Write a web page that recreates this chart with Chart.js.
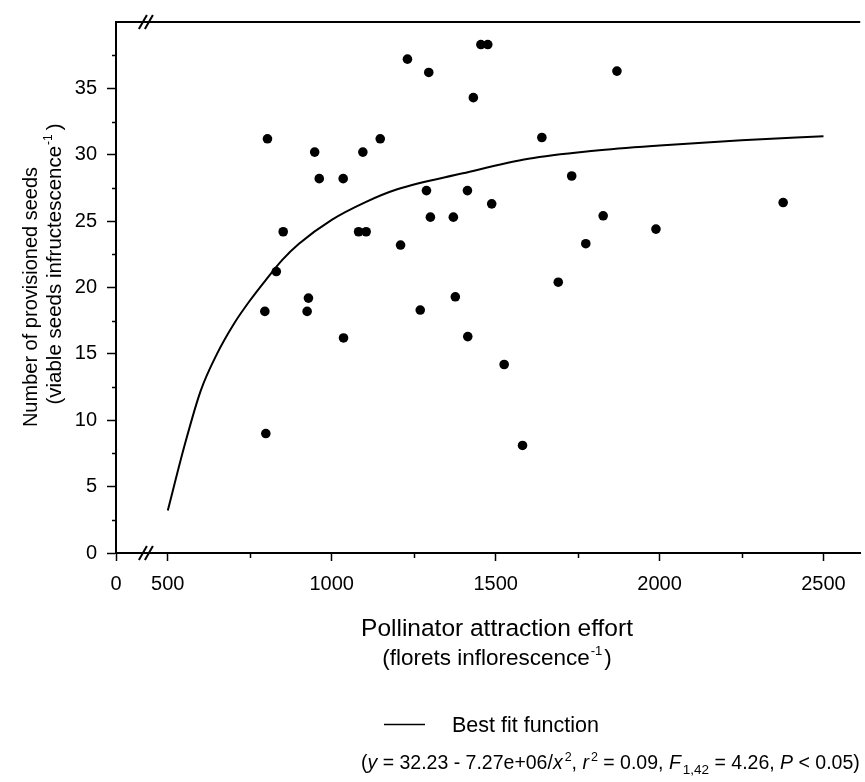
<!DOCTYPE html>
<html>
<head>
<meta charset="utf-8">
<script src="https://cdn.jsdelivr.net/npm/chart.js@4.4.1/dist/chart.umd.min.js"></script>
<style>
  html, body { margin: 0; padding: 0; background: #fff; overflow: hidden; }
  #wrap { position: relative; width: 865px; height: 782px; }
</style>
</head>
<body>
<div id="wrap"><canvas id="chart" width="865" height="782"></canvas></div>
<script>
// ===== DATA =====
const effort = [804, 796, 799, 831, 852, 929, 925, 948, 962, 1035, 1036, 1082, 1105, 1095,
  1148, 1210, 1231, 1270, 1289, 1296, 1301, 1371, 1377, 1414, 1415, 1432, 1455, 1476,
  1488, 1526, 1582, 1641, 1691, 1732, 1775, 1828, 1870, 1989, 2377];
const seeds = [31.2, 18.2, 9.0, 21.2, 24.2, 19.2, 18.2, 30.2, 28.2, 28.2, 16.2, 24.2, 24.2, 30.2,
  31.2, 23.2, 37.2, 18.3, 27.3, 36.2, 25.3, 25.3, 19.3, 27.3, 16.3, 34.3, 38.3, 38.3,
  26.3, 14.2, 8.1, 31.3, 20.4, 28.4, 23.3, 25.4, 36.3, 24.4, 26.4];

// best fit curve
const fitEffort = [500, 550, 600, 650, 700, 750, 800, 850, 900, 1000, 1100, 1200, 1400, 1600, 1800, 2000, 2250, 2500];
const fitSeeds = [3.2, 8.0, 12.2, 15.0, 17.2, 19.0, 20.6, 22.1, 23.3, 25.1, 26.4, 27.4, 28.6, 29.7, 30.3, 30.7, 31.1, 31.4];

const xTickValues = [0, 500, 1000, 1500, 2000, 2500];
const xTickLabels = ['0', '500', '1000', '1500', '2000', '2500'];
const xMinorTicks = [750, 1250, 1750, 2250];
const yTickValues = [0, 5, 10, 15, 20, 25, 30, 35];
const yTickLabels = ['0', '5', '10', '15', '20', '25', '30', '35'];
const yMinorTicks = [2.5, 7.5, 12.5, 17.5, 22.5, 27.5, 32.5, 37.5];

// broken x axis: "0" sits at the left edge, the scale really starts here
const X_LEFT = 342;
const X_RIGHT = 2612;

const FONT = '"Liberation Sans", Arial, sans-serif';
const f = (size, style) => (style ? style + ' ' : '') + size + 'px ' + FONT;

// ===== HELPERS =====
function richWidth(ctx, parts) {
  let w = 0;
  parts.forEach(p => { ctx.font = p.font; w += ctx.measureText(p.t).width + (p.gap || 0); });
  return w;
}
function drawRich(ctx, parts, x, y) {
  let cx = x;
  parts.forEach(p => {
    ctx.font = p.font;
    ctx.fillText(p.t, cx, y + (p.dy || 0));
    cx += ctx.measureText(p.t).width + (p.gap || 0);
  });
}

// ===== FRAME, MINOR TICKS, BREAKS AND TEXTS =====
const framePlugin = {
  id: 'frame',
  afterDraw(chart) {
    const ctx = chart.ctx;
    const area = chart.chartArea;
    const xs = chart.scales.x;
    const ys = chart.scales.y;
    ctx.save();
    ctx.strokeStyle = '#000';
    ctx.fillStyle = '#000';

    // top frame line
    ctx.lineWidth = 2;
    ctx.beginPath();
    ctx.moveTo(area.left, area.top);
    ctx.lineTo(area.right, area.top);
    ctx.stroke();

    // minor ticks
    ctx.lineWidth = 1.5;
    yMinorTicks.forEach(v => {
      const py = Math.round(ys.getPixelForValue(v)) + 0.5;
      ctx.beginPath();
      ctx.moveTo(area.left - 4, py);
      ctx.lineTo(area.left, py);
      ctx.stroke();
    });
    xMinorTicks.forEach(v => {
      const px = Math.round(xs.getPixelForValue(v)) + 0.5;
      ctx.beginPath();
      ctx.moveTo(px, area.bottom);
      ctx.lineTo(px, area.bottom + 5);
      ctx.stroke();
    });

    // axis break marks, between "0" and "500"
    const bx = (area.left + xs.getPixelForValue(500)) / 2 + 4;
    [area.top, area.bottom].forEach(by => {
      ctx.lineWidth = 2;
      [-3, 3].forEach(off => {
        ctx.beginPath();
        ctx.moveTo(bx + off - 4, by + 7);
        ctx.lineTo(bx + off + 4, by - 7);
        ctx.stroke();
      });
    });

    ctx.textBaseline = 'alphabetic';

    // y axis title, two lines, rotated
    ctx.save();
    ctx.translate(37, 297);
    ctx.rotate(-Math.PI / 2);
    ctx.font = f(20);
    ctx.textAlign = 'center';
    ctx.fillText('Number of provisioned seeds', 0, 0);
    ctx.restore();

    const yLine2 = [
      { t: '(viable seeds infructescence', font: f(20.5), gap: 1 },
      { t: '-1', font: f(12), dy: -9, gap: 4 },
      { t: ')', font: f(20.5) }
    ];
    ctx.save();
    ctx.translate(61, 264);
    ctx.rotate(-Math.PI / 2);
    ctx.textAlign = 'left';
    drawRich(ctx, yLine2, -richWidth(ctx, yLine2) / 2, 0);
    ctx.restore();

    // x axis title
    ctx.textAlign = 'center';
    ctx.font = f(24.5);
    ctx.fillText('Pollinator attraction effort', 497, 636);
    const xLine2 = [
      { t: '(florets inflorescence', font: f(22.5), gap: 1 },
      { t: '-1', font: f(13), dy: -10, gap: 2 },
      { t: ')', font: f(22.5) }
    ];
    ctx.textAlign = 'left';
    drawRich(ctx, xLine2, 497 - richWidth(ctx, xLine2) / 2, 665);

    // legend
    ctx.lineWidth = 1.5;
    ctx.beginPath();
    ctx.moveTo(384, 724.5);
    ctx.lineTo(425, 724.5);
    ctx.stroke();
    ctx.font = f(21.5);
    ctx.fillText('Best fit function', 452, 732);

    // fit statistics
    const eq = [
      { t: '(', font: f(19.5) },
      { t: 'y', font: f(19.5, 'italic') },
      { t: ' = 32.23 - 7.27e+06/', font: f(19.5) },
      { t: 'x', font: f(19.5, 'italic'), gap: 2 },
      { t: '2', font: f(12.5), dy: -8 },
      { t: ', ', font: f(19.5) },
      { t: 'r', font: f(19.5, 'italic'), gap: 2 },
      { t: '2', font: f(12.5), dy: -8 },
      { t: ' = 0.09, ', font: f(19.5) },
      { t: 'F', font: f(19.5, 'italic'), gap: 2 },
      { t: '1,42', font: f(13.5), dy: 5 },
      { t: ' = 4.26, ', font: f(19.5) },
      { t: 'P', font: f(19.5, 'italic') },
      { t: ' < 0.05)', font: f(19.5) }
    ];
    drawRich(ctx, eq, 361, 769);

    ctx.restore();
  }
};

// ===== CHART =====
const ctx = document.getElementById('chart').getContext('2d');
new Chart(ctx, {
  type: 'scatter',
  data: {
    datasets: [
      {
        label: 'Observed',
        data: effort.map((x, i) => ({ x: x, y: seeds[i] })),
        pointRadius: 4.8,
        pointHoverRadius: 4.8,
        pointBackgroundColor: '#000',
        pointBorderColor: '#000',
        pointBorderWidth: 0
      },
      {
        label: 'Best fit function',
        type: 'line',
        data: fitEffort.map((x, i) => ({ x: x, y: fitSeeds[i] })),
        showLine: true,
        borderColor: '#000',
        borderWidth: 2,
        pointRadius: 0,
        fill: false,
        cubicInterpolationMode: 'monotone'
      }
    ]
  },
  options: {
    responsive: false,
    animation: false,
    layout: { padding: { top: 22, right: 0, bottom: 0, left: 0 } },
    plugins: {
      legend: { display: false },
      tooltip: { enabled: false }
    },
    scales: {
      x: {
        type: 'linear',
        min: X_LEFT,
        max: X_RIGHT,
        afterBuildTicks: s => { s.ticks = xTickValues.map(v => ({ value: Math.max(v, s.min) })); },
        afterFit: s => { s.height = 229; },
        ticks: {
          callback: (v, i) => xTickLabels[i],
          autoSkip: false,
          maxRotation: 0,
          color: '#000',
          font: { family: FONT, size: 20 },
          padding: 11
        },
        grid: { drawOnChartArea: false, drawTicks: true, tickLength: 8, tickColor: '#000', tickWidth: 1.5 },
        border: { display: true, color: '#000', width: 2 }
      },
      y: {
        type: 'linear',
        min: 0,
        max: 40,
        afterBuildTicks: s => { s.ticks = yTickValues.map(v => ({ value: v })); },
        afterFit: s => { s.width = 116; },
        ticks: {
          callback: (v, i) => yTickLabels[i],
          autoSkip: false,
          color: '#000',
          font: { family: FONT, size: 20 },
          padding: 10
        },
        grid: { drawOnChartArea: false, drawTicks: true, tickLength: 9, tickColor: '#000', tickWidth: 1.5 },
        border: { display: true, color: '#000', width: 2 }
      }
    }
  },
  plugins: [framePlugin]
});
</script>
</body>
</html>
